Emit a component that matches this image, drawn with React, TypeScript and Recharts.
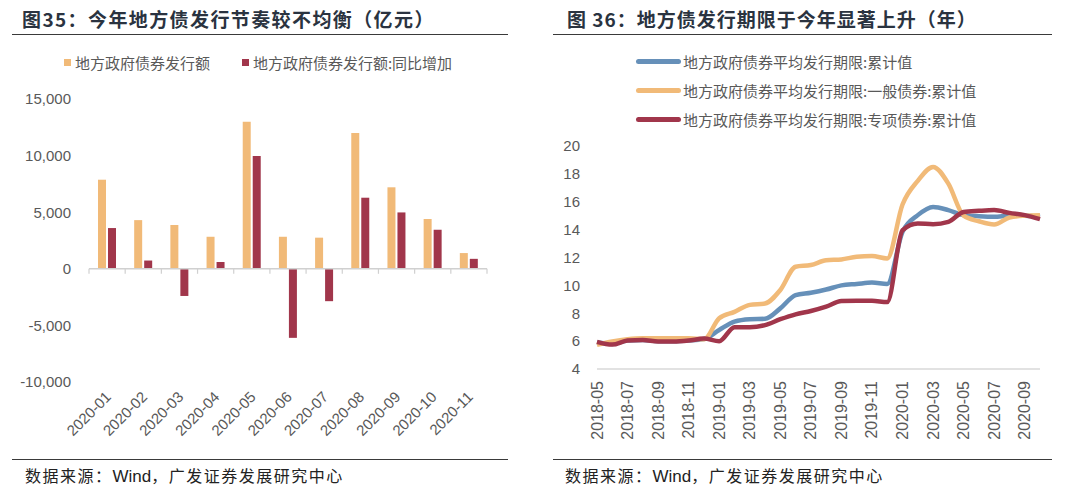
import React from 'react';
import { BarChart, Bar, XAxis, YAxis, ReferenceLine, Legend, LineChart, Line } from 'recharts';

// ---------- Left chart data ----------
const barMonths = ['2020-01', '2020-02', '2020-03', '2020-04', '2020-05', '2020-06', '2020-07', '2020-08', '2020-09', '2020-10', '2020-11'];
const issuance = [7870, 4300, 3870, 2830, 13000, 2830, 2750, 12000, 7200, 4400, 1390];
const issuanceYoY = [3600, 730, -2400, 600, 9970, -6100, -2860, 6280, 4980, 3450, 880];
const barYTicks = [-10000, -5000, 0, 5000, 10000, 15000];
const barSeriesNames = ['地方政府债券发行额', '地方政府债券发行额:同比增加'];
const barColors = ['#F1BA78', '#A1364B'];

// ---------- Right chart data ----------
const lineMonths = [
  '2018-05', '2018-06', '2018-07', '2018-08', '2018-09', '2018-10', '2018-11', '2018-12',
  '2019-01', '2019-02', '2019-03', '2019-04', '2019-05', '2019-06', '2019-07', '2019-08',
  '2019-09', '2019-10', '2019-11', '2019-12',
  '2020-01', '2020-02', '2020-03', '2020-04', '2020-05', '2020-06', '2020-07', '2020-08', '2020-09', '2020-10',
];
const avgTotal = [5.9, 5.8, 6.05, 6.08, 6.0, 6.0, 6.05, 6.15, 6.8, 7.4, 7.57, 7.6, 8.35, 9.3, 9.47, 9.7, 10.0, 10.1, 10.2, 10.1, 13.84, 15.04, 15.63, 15.4, 15.04, 14.96, 14.92, 15.0, 15.0, 14.9];
const avgGeneral = [5.73, 5.97, 6.13, 6.2, 6.2, 6.2, 6.2, 6.13, 7.64, 8.1, 8.6, 8.7, 9.67, 11.34, 11.46, 11.8, 11.86, 12.05, 12.1, 11.93, 15.8, 17.5, 18.5, 17.3, 15.0, 14.6, 14.37, 14.87, 15.0, 15.04];
const avgSpecial = [5.95, 5.75, 6.04, 6.08, 5.97, 5.97, 6.04, 6.18, 6.0, 7.0, 7.0, 7.15, 7.57, 7.92, 8.16, 8.47, 8.88, 8.9, 8.9, 8.8, 13.96, 14.44, 14.39, 14.56, 15.27, 15.35, 15.4, 15.2, 15.04, 14.75];
const lineYTicks = [4, 6, 8, 10, 12, 14, 16, 18, 20];
const lineSeriesNames = ['地方政府债券平均发行期限:累计值', '地方政府债券平均发行期限:一般债券:累计值', '地方政府债券平均发行期限:专项债券:累计值'];
const lineColors = ['#6690B9', '#F1BA78', '#A1364B'];

const titleLeft = '图35：今年地方债发行节奏较不均衡（亿元）';
const titleRight = '图 36：地方债发行期限于今年显著上升（年）';
const sourcePrefix = '数据来源：';
const sourceLatin = 'Wind';
const sourceSuffix = '，广发证券发展研究中心';

const barData = barMonths.map((m, i) => ({ month: m, a: issuance[i], b: issuanceYoY[i] }));
const lineData = lineMonths.map((m, i) => ({ month: m, t: avgTotal[i], g: avgGeneral[i], s: avgSpecial[i] }));

const NUM_FONT = '"Liberation Sans", Arial, "Noto Sans CJK SC", sans-serif';
const CJK_FONT = '"Noto Sans CJK SC", "Liberation Sans", sans-serif';
const TICK_COLOR = '#595959';

const fmt = (v: number) => v.toLocaleString('en-US');

const BarXTick = (props: any) => {
  const { x, y, payload } = props;
  const tx = x + 1;
  const ty = y + 12;
  return (
    <text x={tx} y={ty} transform={`rotate(-45, ${tx}, ${ty})`} textAnchor="end" dominantBaseline="central"
      fill={TICK_COLOR} fontSize={15} fontFamily={NUM_FONT}>{payload.value}</text>
  );
};

const LineXTick = (props: any) => {
  const { x, y, payload } = props;
  return (
    <text x={x} y={y} transform={`rotate(-90, ${x}, ${y})`} textAnchor="end" dominantBaseline="central"
      fill={TICK_COLOR} fontSize={16} fontFamily={NUM_FONT}>{payload.value}</text>
  );
};

const ZeroAxis = (props: any) => {
  const { x1, y1, x2, y2 } = props;
  const n = barMonths.length;
  const step = (x2 - x1) / n;
  const marks = [];
  for (let k = 0; k <= n; k++) {
    const xx = x1 + k * step;
    marks.push(<line key={k} x1={xx} y1={y1} x2={xx} y2={y1 + 5} stroke="#d0d0d0" strokeWidth={1.2} />);
  }
  return (
    <g>
      <line x1={x1} y1={y1} x2={x2} y2={y2} stroke="#d0d0d0" strokeWidth={1.5} />
      {marks}
    </g>
  );
};

const BarLegend = () => (
  <div style={{ display: 'flex', justifyContent: 'center', alignItems: 'center', fontFamily: CJK_FONT, fontSize: 15, color: TICK_COLOR }}>
    {barSeriesNames.map((n, i) => (
      <div key={n} style={{ display: 'flex', alignItems: 'center', marginRight: i === 0 ? 32 : 0 }}>
        <span style={{ width: 7, height: 7, background: barColors[i], display: 'inline-block', marginRight: 4 }} />
        <span>{n}</span>
      </div>
    ))}
  </div>
);

const LineLegend = () => (
  <div style={{ fontFamily: CJK_FONT, fontSize: 15, color: TICK_COLOR }}>
    {lineSeriesNames.map((n, i) => (
      <div key={n} style={{ display: 'flex', alignItems: 'center', height: 29 }}>
        <span style={{ width: 45, height: 5, borderRadius: 3, background: lineColors[i], display: 'inline-block', marginRight: 2 }} />
        <span>{n}</span>
      </div>
    ))}
  </div>
);

const Rule = ({ left, top, width }: { left: number; top: number; width: number }) => (
  <div style={{ position: 'absolute', left, top, width, height: 0, borderTop: '1.5px solid #3a3a3a' }} />
);

const Source = ({ left }: { left: number }) => (
  <div style={{ position: 'absolute', left, top: 463, fontFamily: CJK_FONT, fontSize: 16, color: '#222', whiteSpace: 'nowrap' }}>
    <span style={{ letterSpacing: 1.5 }}>{sourcePrefix}</span>
    <span style={{ fontFamily: NUM_FONT, fontSize: 17 }}>{sourceLatin}</span>
    <span style={{ letterSpacing: 1.5 }}>{sourceSuffix}</span>
  </div>
);

export default function App() {
  return (
    <div style={{ position: 'absolute', left: 0, top: 0, width: 1080, height: 490, background: '#fff', overflow: 'hidden' }}>
      {/* Titles */}
      <div style={{ position: 'absolute', left: 22, top: 5, fontFamily: CJK_FONT, fontWeight: 700, fontSize: 19, letterSpacing: 1.4, color: '#2A3340', whiteSpace: 'nowrap' }}>{titleLeft}</div>
      <div style={{ position: 'absolute', left: 567, top: 5, fontFamily: CJK_FONT, fontWeight: 700, fontSize: 19, letterSpacing: 1, color: '#2A3340', whiteSpace: 'nowrap' }}>{titleRight}</div>
      <Rule left={12} top={34} width={496} />
      <Rule left={553} top={34} width={499} />
      <Rule left={12} top={459} width={496} />
      <Rule left={553} top={459} width={499} />
      <Source left={25} />
      <Source left={565} />

      {/* Left bar chart */}
      <div style={{ position: 'absolute', left: 0, top: 0 }}>
        <BarChart width={540} height={490} data={barData} margin={{ top: 99, right: 53, bottom: 78, left: 9 }} barSize={8} barGap={2}>
          <XAxis dataKey="month" axisLine={false} tickLine={false} interval={0} tickSize={0} tickMargin={0} height={30} tick={BarXTick} />
          <YAxis domain={[-10000, 15000]} ticks={barYTicks} axisLine={false} tickLine={false} width={80} tickSize={0} tickMargin={18}
            tickFormatter={fmt} tick={{ fill: TICK_COLOR, fontSize: 15, fontFamily: NUM_FONT }} interval={0} />
          <Legend layout="horizontal" verticalAlign="middle" align="center" wrapperStyle={{ top: 52, left: 8, width: 500 }} content={BarLegend} />
          <ReferenceLine y={0} shape={ZeroAxis} />
          <Bar dataKey="a" name={barSeriesNames[0]} fill={barColors[0]} isAnimationActive={false} />
          <Bar dataKey="b" name={barSeriesNames[1]} fill={barColors[1]} isAnimationActive={false} />
        </BarChart>
      </div>

      {/* Right line chart */}
      <div style={{ position: 'absolute', left: 540, top: 0 }}>
        <LineChart width={540} height={490} data={lineData} margin={{ top: 146, right: 40, bottom: 91, left: 12 }}>
          <XAxis dataKey="month" axisLine={{ stroke: '#d9d9d9', strokeWidth: 1.5 }} tickLine={false} interval={1} tickSize={0} tickMargin={12} height={30} tick={LineXTick} />
          <YAxis domain={[4, 20]} ticks={lineYTicks} axisLine={false} tickLine={false} width={45} tickSize={0} tickMargin={17}
            tick={{ fill: TICK_COLOR, fontSize: 15, fontFamily: NUM_FONT }} interval={0} />
          <Legend layout="horizontal" verticalAlign="middle" align="center" wrapperStyle={{ top: 47, left: 96, width: 400 }} content={LineLegend} />
          <Line type="monotone" dataKey="t" name={lineSeriesNames[0]} stroke={lineColors[0]} strokeWidth={4.5} dot={false} isAnimationActive={false} />
          <Line type="monotone" dataKey="g" name={lineSeriesNames[1]} stroke={lineColors[1]} strokeWidth={4.5} dot={false} isAnimationActive={false} />
          <Line type="monotone" dataKey="s" name={lineSeriesNames[2]} stroke={lineColors[2]} strokeWidth={4.5} dot={false} isAnimationActive={false} />
        </LineChart>
      </div>
    </div>
  );
}
